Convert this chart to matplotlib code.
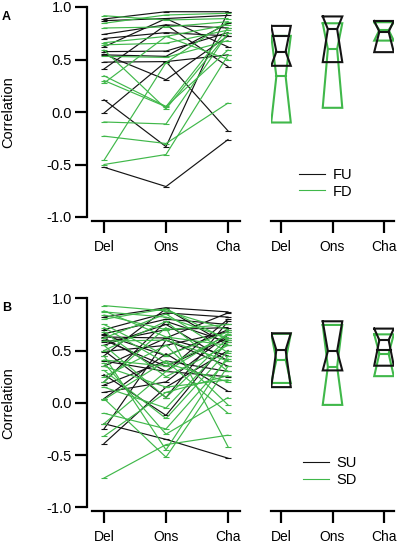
import matplotlib
matplotlib.use('Agg')
import matplotlib.pyplot as plt
import numpy as np

plt.rcParams['font.family'] = ['Liberation Sans', 'DejaVu Sans']

categories = ['Del', 'Ons', 'Cha']
yticks = [-1.0, -0.5, 0.0, 0.5, 1.0]
ytick_labels = ['-1.0', '-0.5', '0.0', '0.5', '1.0']

# panel A, per-cell correlations (Del, Ons, Cha)
fu_lines = [
    [0.886, 0.955, 0.955],
    [0.87, 0.89, 0.92],
    [0.74, 0.83, 0.80],
    [0.70, 0.756, 0.725],
    [0.62, 0.89, 0.62],
    [0.575, 0.58, 0.756],
    [0.544, 0.53, 0.845],
    [0.475, 0.48, 0.544],
    [0.41, 0.83, 0.433],
    [0.117, -0.33, 0.955],
    [-0.01, 0.48, -0.18],
    [-0.526, -0.71, -0.263],
    [0.55, 0.307, 0.725],
]
fd_lines = [
    [0.917, 0.876, 0.89],
    [0.845, 0.924, 0.94],
    [0.80, 0.81, 0.86],
    [0.66, 0.72, 0.83],
    [0.64, 0.655, 0.78],
    [0.59, 0.03, 0.75],
    [0.53, 0.52, 0.68],
    [0.345, 0.053, 0.59],
    [0.275, 0.72, 0.50],
    [-0.095, -0.114, 0.75],
    [-0.23, -0.30, 0.085],
    [-0.46, 0.47, 0.86],
    [-0.50, -0.405, 0.54],
    [0.30, 0.05, 0.80],
]

# panel B
su_lines = [
    [0.82, 0.91, 0.87],
    [0.70, 0.86, 0.82],
    [0.66, 0.80, 0.75],
    [0.63, 0.62, 0.86],
    [0.65, 0.45, 0.70],
    [0.60, 0.35, 0.62],
    [0.55, 0.75, 0.40],
    [0.49, 0.55, 0.68],
    [0.45, 0.90, 0.55],
    [0.40, 0.30, 0.80],
    [0.35, 0.62, 0.45],
    [0.27, -0.12, 0.60],
    [0.17, 0.40, 0.30],
    [0.10, 0.20, 0.65],
    [0.04, 0.47, 0.11],
    [-0.20, -0.35, -0.53],
    [-0.25, 0.60, 0.35],
    [-0.39, 0.15, 0.50],
    [0.62, 0.30, 0.25],
    [0.58, 0.70, 0.72],
    [0.20, 0.78, 0.58],
    [0.50, 0.05, 0.78],
]
sd_lines = [
    [0.93, 0.88, 0.70],
    [0.87, 0.82, 0.62],
    [0.84, 0.70, 0.75],
    [0.80, 0.90, 0.60],
    [0.75, 0.45, 0.68],
    [0.68, 0.25, 0.55],
    [0.59, 0.60, 0.40],
    [0.50, 0.78, 0.30],
    [0.45, -0.45, 0.45],
    [0.41, 0.35, 0.65],
    [0.35, 0.15, 0.22],
    [0.31, -0.15, 0.50],
    [0.25, 0.55, -0.02],
    [0.15, -0.05, 0.58],
    [0.04, -0.52, 0.35],
    [0.03, 0.40, -0.10],
    [-0.10, -0.25, 0.42],
    [-0.32, 0.10, 0.26],
    [-0.72, -0.40, -0.31],
    [0.62, 0.85, 0.48],
    [0.20, 0.72, -0.42],
    [0.55, 0.05, 0.62],
    [0.72, 0.38, 0.20],
    [0.88, 0.63, 0.55],
    [-0.20, 0.30, 0.66],
    [0.38, -0.30, 0.05],
]

# notched box summaries (Del, Ons, Cha)
fu_q1 = [0.44, 0.475, 0.57]
fu_med = [0.575, 0.79, 0.765]
fu_q3 = [0.82, 0.91, 0.867]
fu_ci = [0.72, np.nan, np.nan]
fd_q1 = [-0.10, 0.04, 0.68]
fd_med = [0.34, 0.60, 0.78]
fd_q3 = [0.725, 0.845, 0.855]
fd_ci = [np.nan, np.nan, np.nan]

su_q1 = [0.15, 0.31, 0.355]
su_med = [0.505, 0.495, 0.60]
su_q3 = [0.665, 0.78, 0.71]
su_ci = [np.nan, np.nan, 0.51]
sd_q1 = [0.19, -0.02, 0.255]
sd_med = [0.41, 0.345, 0.47]
sd_q3 = [0.66, 0.745, 0.655]
sd_ci = [np.nan, np.nan, np.nan]

BLACK = '#141414'
GREEN = '#40b84a'

W, H = 397, 546
fig = plt.figure(figsize=(W / 100, H / 100), dpi=100)


def rect(x0, x1, ytop, ybot):
    return [x0 / W, 1 - ybot / H, (x1 - x0) / W, (ybot - ytop) / H]


def style_axis(ax, with_y):
    ax.set_xlim(-0.2, 2.2)
    ax.set_ylim(-1, 1)
    ax.set_xticks(range(len(categories)))
    ax.set_xticklabels(categories, fontsize=10.5)
    for s in ['top', 'right']:
        ax.spines[s].set_visible(False)
    ax.spines['bottom'].set_position(('outward', 3))
    ax.spines['bottom'].set_linewidth(1.6)
    ax.tick_params(axis='x', length=8.5, width=1.6, pad=5)
    if with_y:
        ax.spines['left'].set_position(('outward', 3.6))
        ax.spines['left'].set_linewidth(1.6)
        ax.set_yticks(yticks)
        ax.set_yticklabels(ytick_labels, fontsize=10.5)
        ax.tick_params(axis='y', length=8.5, width=1.6, pad=2)
    else:
        ax.spines['left'].set_visible(False)
        ax.set_yticks([])


def draw_lines(ax, rows, color):
    xs = np.arange(len(categories))
    for r in rows:
        ax.plot(xs, r, color=color, lw=0.85, marker='_', ms=5, mew=0.8)


def draw_boxes(ax, q1, med, q3, ci, color):
    w, nw = 0.19, 0.09
    for i in range(len(categories)):
        xs = [i - w, i + w, i + nw, i + w, i - w, i - nw, i - w]
        ys = [q3[i], q3[i], med[i], q1[i], q1[i], med[i], q3[i]]
        ax.plot(xs, ys, color=color, lw=1.5, solid_joinstyle='miter')
        ax.plot([i - nw, i + nw], [med[i], med[i]], color=color, lw=1.5)
        if not np.isnan(ci[i]):
            c = ci[i]
            edge = q3[i] if c > med[i] else q1[i]
            f = (c - med[i]) / (edge - med[i])
            hw = nw + (w - nw) * f
            ax.plot([i - hw, i + hw], [c, c], color=color, lw=1.5)


panels = [
    (7, 217, fu_lines, fd_lines, (fu_q1, fu_med, fu_q3, fu_ci),
     (fd_q1, fd_med, fd_q3, fd_ci), ['FU', 'FD'], (0.229, 0.235), 'A'),
    (298.3, 507.3, su_lines, sd_lines, (su_q1, su_med, su_q3, su_ci),
     (sd_q1, sd_med, sd_q3, sd_ci), ['SU', 'SD'], (0.261, 0.245), 'B'),
]

for ytop, ybot, up, down, ubox, dbox, names, lpos, tag in panels:
    axl = fig.add_axes(rect(91.6, 240.4, ytop, ybot))
    style_axis(axl, True)
    draw_lines(axl, up, BLACK)
    draw_lines(axl, down, GREEN)

    axr = fig.add_axes(rect(270.7, 394.3, ytop, ybot))
    style_axis(axr, False)
    draw_boxes(axr, *dbox, GREEN)
    draw_boxes(axr, *ubox, BLACK)
    h1, = axr.plot([], [], color=BLACK, lw=0.8)
    h2, = axr.plot([], [], color=GREEN, lw=0.8)
    axr.legend([h1, h2], names, loc='upper left', bbox_to_anchor=lpos,
               frameon=False, fontsize=10.5, handlelength=1.8,
               handletextpad=0.5, labelspacing=0.2, borderpad=0,
               borderaxespad=0)

    fig.text(8 / W, 1 - (ytop + ybot) / 2 / H, 'Correlation', rotation=90,
             ha='center', va='center', fontsize=10.5)
    fig.text(2 / W, 1 - (ytop + 10) / H, tag, fontsize=9, fontweight='bold',
             ha='left', va='center')

fig.savefig('out.png', dpi=100)
